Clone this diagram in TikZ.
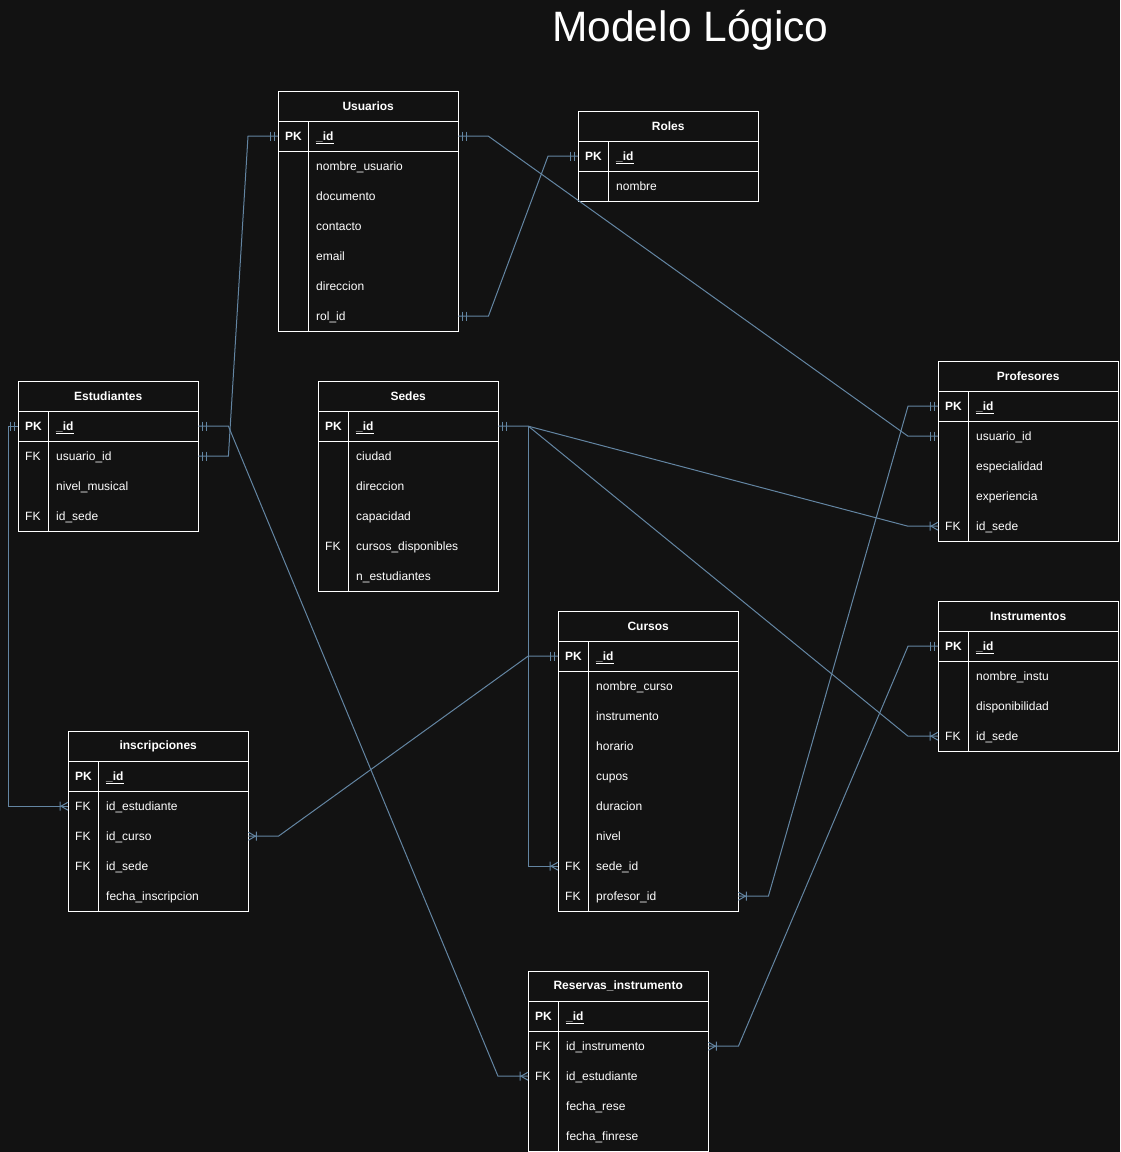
\documentclass[tikz,border=0pt]{standalone}
\usepackage{fontspec}
\setmainfont{Liberation Sans}
\usetikzlibrary{calc}
\definecolor{bg}{HTML}{121212}
\definecolor{lnk}{HTML}{6385A2}
\newcommand\pkf[1]{\textbf{\underline{#1}}}
\tikzset{
  x=1pt, y=-1pt,
  tbl/.style={draw=white, line width=1pt},
  hdr/.style={anchor=north west, minimum width=180pt, minimum height=30pt, inner sep=0pt,
    text=white, font=\fontsize{12}{14}\selectfont\bfseries},
  rowbox/.style={anchor=north west, minimum width=180pt, minimum height=30pt, inner sep=0pt},
  celltxt/.style={anchor=west, inner sep=0pt, text=white, text height=10pt, text depth=1pt,
    font=\fontsize{12}{14}\selectfont},
  conn/.style={draw=lnk, line width=1pt},
  titletxt/.style={text=white, font=\fontsize{42.5}{50}\selectfont}
}
% #1 name, #2 x, #3 y, #4 title, #5 number of rows, #6 rows key/field/name
\newcommand\ertable[6]{%
  \fill[bg] (#2,#3) rectangle ++(180,{30*(#5+1)});
  \node[hdr] (#1) at (#2,#3) {#4};
  \foreach [count=\i] \kk/\ff/\nn in {#6} {
    \node[rowbox] (#1-\nn) at (#2,{#3+30*\i}) {};
    \node[celltxt] (#1-\nn-k) at ([xshift=7pt]#1-\nn.west) {\kk};
    \node[celltxt] (#1-\nn-f) at ([xshift=38pt]#1-\nn.west) {\ff};
  }
  \draw[tbl] (#2,#3) rectangle ++(180,{30*(#5+1)});
  \draw[tbl] (#2,{#3+30}) -- ++(180,0) (#2,{#3+60}) -- ++(180,0)
    ({#2+30},{#3+30}) -- ({#2+30},{#3+30*(#5+1)});
}
\newcommand\mone[2]{\begin{scope}[shift={(#1)},xscale=#2]
  \draw[conn] (4,-4.5) -- (4,4.5) (8,-4.5) -- (8,4.5);\end{scope}}
\newcommand\crow[2]{\begin{scope}[shift={(#1)},xscale=#2]
  \draw[conn] (0,-4) -- (7,0) -- (0,4) (8,-4.5) -- (8,4.5);\end{scope}}
\begin{document}
\begin{tikzpicture}
\fill[bg] (0,0) rectangle (1120,1152);
\useasboundingbox (0,0) rectangle (1120,1152);
\node[titletxt] (title) at (690.5,30.5) {Modelo Lógico};

% ---- tables -----
\ertable{usu}{278}{91}{Usuarios}{7}{\textbf{PK}/\pkf{\_id}/id, /nombre\_usuario/nom, /documento/doc, /contacto/con, /email/ema, /direccion/dir, /rol\_id/rol}
\ertable{rol}{578}{111}{Roles}{2}{\textbf{PK}/\pkf{\_id}/id, /nombre/nom}
\ertable{est}{18}{381}{Estudiantes}{4}{\textbf{PK}/\pkf{\_id}/id, FK/usuario\_id/uid, /nivel\_musical/niv, FK/id\_sede/sede}
\ertable{sed}{318}{381}{Sedes}{6}{\textbf{PK}/\pkf{\_id}/id, /ciudad/ciu, /direccion/dir, /capacidad/cap, FK/cursos\_disponibles/cur, /n\_estudiantes/nes}
\ertable{prof}{938}{361}{Profesores}{5}{\textbf{PK}/\pkf{\_id}/id, /usuario\_id/uid, /especialidad/esp, /experiencia/exp, FK/id\_sede/sede}
\ertable{inst}{938}{601}{Instrumentos}{4}{\textbf{PK}/\pkf{\_id}/id, /nombre\_instu/nom, /disponibilidad/dis, FK/id\_sede/sede}
\ertable{cur}{558}{611}{Cursos}{9}{\textbf{PK}/\pkf{\_id}/id, /nombre\_curso/nom, /instrumento/ins, /horario/hor, /cupos/cup, /duracion/dur, /nivel/niv, FK/sede\_id/sede, FK/profesor\_id/prof}
\ertable{ins}{68}{731}{inscripciones}{5}{\textbf{PK}/\pkf{\_id}/id, FK/id\_estudiante/est, FK/id\_curso/cur, FK/id\_sede/sede, /fecha\_inscripcion/fec}
\ertable{res}{528}{971}{Reservas\_instrumento}{5}{\textbf{PK}/\pkf{\_id}/id, FK/id\_instrumento/inst, FK/id\_estudiante/est, /fecha\_rese/fr, /fecha\_finrese/ff}

% ---- connectors -----
\draw[conn] (usu-id.east) -- ++(30,0) -- ($(prof-uid.west)+(-30,0)$) -- (prof-uid.west);
\mone{usu-id.east}{1}\mone{prof-uid.west}{-1}

\draw[conn] (usu-rol.east) -- ++(30,0) -- ($(rol-id.west)+(-30,0)$) -- (rol-id.west);
\mone{usu-rol.east}{1}\mone{rol-id.west}{-1}

\draw[conn] (est-uid.east) -- ++(30,0) -- ($(usu-id.west)+(-30,0)$) -- (usu-id.west);
\mone{est-uid.east}{1}\mone{usu-id.west}{-1}

\draw[conn] (est-id.east) -- ++(30,0) -- ($(res-est.west)+(-30,0)$) -- (res-est.west);
\mone{est-id.east}{1}\crow{res-est.west}{-1}

\draw[conn] (est-id.west) -- ++(-10,0) |- (ins-est.west);
\mone{est-id.west}{-1}\crow{ins-est.west}{-1}

\draw[conn] (sed-id.east) -- ++(30,0) coordinate (sedhub) -- ($(prof-sede.west)+(-30,0)$) -- (prof-sede.west);
\draw[conn] (sedhub) -- ($(inst-sede.west)+(-30,0)$) -- (inst-sede.west);
\draw[conn] (sedhub) |- (cur-sede.west);
\mone{sed-id.east}{1}\crow{prof-sede.west}{-1}\crow{inst-sede.west}{-1}\crow{cur-sede.west}{-1}

\draw[conn] (cur-id.west) -- ++(-30,0) -- ($(ins-cur.east)+(30,0)$) -- (ins-cur.east);
\mone{cur-id.west}{-1}\crow{ins-cur.east}{1}

\draw[conn] (cur-prof.east) -- ++(30,0) -- ($(prof-id.west)+(-30,0)$) -- (prof-id.west);
\crow{cur-prof.east}{1}\mone{prof-id.west}{-1}

\draw[conn] (res-inst.east) -- ++(30,0) -- ($(inst-id.west)+(-30,0)$) -- (inst-id.west);
\crow{res-inst.east}{1}\mone{inst-id.west}{-1}
\end{tikzpicture}
\end{document}
